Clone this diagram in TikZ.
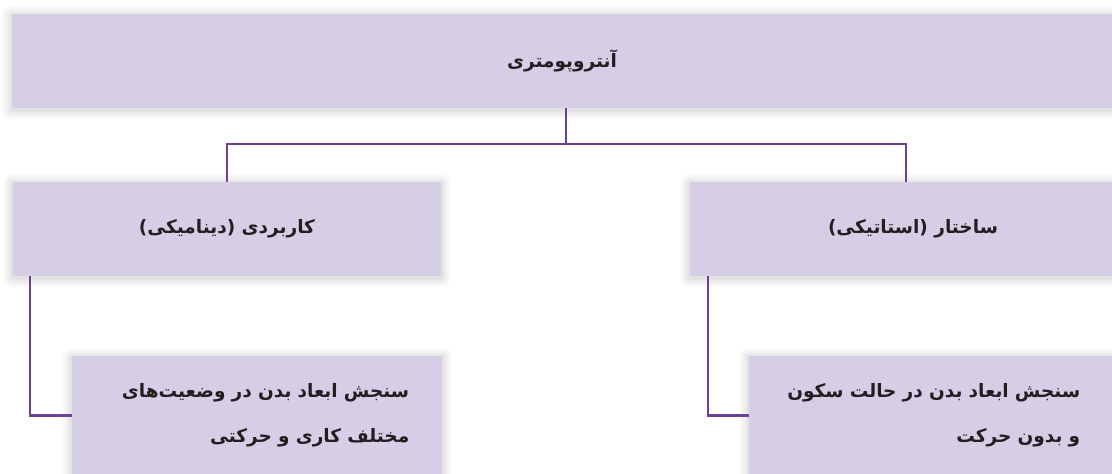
\documentclass[tikz,border=0pt]{standalone}
\usepackage{fontspec}
\newfontfamily\arabicfont[Script=Arabic]{DejaVu Sans}
\TeXXeTstate=1
\usetikzlibrary{backgrounds,calc}
\definecolor{boxfill}{HTML}{D6CEE6}
\definecolor{conncol}{HTML}{6B4298}
\definecolor{txt}{HTML}{231F20}
\tikzset{
  box/.style={fill=boxfill, draw=none, inner sep=0pt, text=txt,
    font=\arabicfont\bfseries\fontsize{18.5}{45}\selectfont},
  twoline/.style={box, anchor=north west, align=right, inner xsep=33pt,
    minimum height=118pt},
  conn/.style={draw=conncol, line width=2.6pt},
}
\newcommand\softshadow[1]{%
  \foreach \r/\o in {10/0.015,8/0.02,6/0.025,4/0.025,2/0.03}{%
    \fill[black,opacity=\o,rounded corners=\r pt]
      ($(#1.north west)+(-\r,-\r+1.5)$) rectangle ($(#1.south east)+(\r,\r+1.5)$);
  }}
\begin{document}
\begin{tikzpicture}[x=1pt,y=-1pt]
\useasboundingbox (0,0) rectangle (1112,474);
\clip (0,0) rectangle (1112,474);

\node[box, minimum width=1100pt, minimum height=94pt] (top) at (562,61)
  {\beginR آنتروپومتری\endR};
\node[box, minimum width=428pt, minimum height=94pt] (midL) at (227,229)
  {\beginR کاربردی (دینامیکی)\endR};
\node[box, minimum width=446pt, minimum height=94pt] (midR) at (913,229)
  {\beginR ساختار (استاتیکی)\endR};
\node[twoline, text width=304pt] (botL) at (72,356)
  {\beginR سنجش ابعاد بدن در وضعیت‌های\endR\\\beginR مختلف کاری و حرکتی\endR};
\node[twoline, text width=298pt] (botR) at (749,356)
  {\beginR سنجش ابعاد بدن در حالت سکون\endR\\\beginR و بدون حرکت\endR};

\begin{pgfonlayer}{background}
  \fill[white] (0,0) rectangle (1112,474);
  \softshadow{top}
  \softshadow{midL}
  \softshadow{midR}
  \softshadow{botL}
  \softshadow{botR}
\end{pgfonlayer}

\coordinate (hub) at (566,144);
\draw[conn] (hub |- top.south) -- (hub);
\draw[conn] (midL.north) |- (hub) -| ([xshift=-7pt]midR.north);
\draw[conn] ([xshift=17pt]midL.south west) |- (botL.west);
\draw[conn] ([xshift=18pt]midR.south west) |- (botR.west);
\end{tikzpicture}
\end{document}
